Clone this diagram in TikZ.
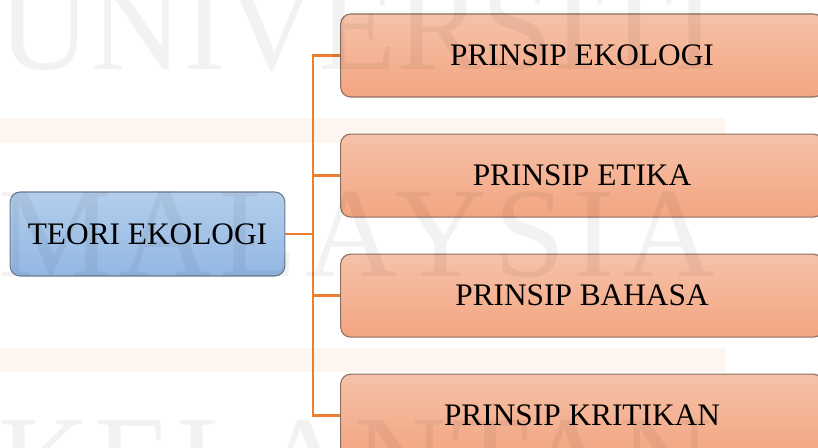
\documentclass[tikz,border=0pt]{standalone}
\usepackage{fontspec}
\setmainfont{Liberation Serif}
\newfontfamily\wmfont{Liberation Serif}
\usetikzlibrary{positioning}

\definecolor{linkorange}{HTML}{ED7D31}
\definecolor{boxtop}{HTML}{F5C2A8}
\definecolor{boxbot}{HTML}{F4A582}
\definecolor{boxline}{HTML}{8A6E60}
\definecolor{roottop}{HTML}{B3CEEC}
\definecolor{rootbot}{HTML}{93B7E3}
\definecolor{rootline}{HTML}{6C7C90}

\tikzset{
	rootbox/.style = {draw=rootline, line width=0.8pt, rounded corners=7.5pt, top color=roottop, bottom color=rootbot,
		minimum width=206pt, minimum height=63pt, inner sep=0pt, font=\fontsize{23.5pt}{28pt}\selectfont},
	leafbox/.style = {draw=boxline, line width=0.8pt, rounded corners=7.5pt, top color=boxtop, bottom color=boxbot,
		minimum width=362pt, minimum height=62.25pt, inner sep=0pt, font=\fontsize{23.5pt}{28pt}\selectfont},
	link/.style = {draw=linkorange, line width=1.8pt},
	wmark/.style = {anchor=base west, inner sep=0pt, text=black, text opacity=0.05,
		font=\wmfont\fontsize{96pt}{100pt}\selectfont},
}

\begin{document}
\begin{tikzpicture}[x=0.75pt, y=-0.75pt]
	\useasboundingbox (0,0) rectangle (818,448);
	\fill[white] (0,0) rectangle (818,448);

	% faint bands of the page watermark
	\fill[linkorange, opacity=0.07] (0,118) rectangle (725,143);
	\fill[linkorange, opacity=0.07] (0,348) rectangle (725,372);

	\node[rootbox] (teori) at (147.5,234) {TEORI EKOLOGI};

	\node[leafbox] (p1) at (582,55.5) {PRINSIP EKOLOGI};
	\node[leafbox, below=27pt of p1] (p2) {PRINSIP ETIKA};
	\node[leafbox, below=27pt of p2] (p3) {PRINSIP BAHASA};
	\node[leafbox, below=27pt of p3] (p4) {PRINSIP KRITIKAN};

	\coordinate (split) at (313,234);
	\draw[link] (teori.east) -- (split);
	\foreach \i in {1,...,4}
		\draw[link] (split) |- (p\i.west);

	% page watermark
	\node[wmark] (wm1) at (-2,70) {UNIVERSITI};
	\node[wmark] (wm2) at (-2,277) {\addfontfeature{LetterSpace=6}MALAYSIA};
	\node[wmark] (wm3) at (-2,505) {\addfontfeature{LetterSpace=3}KELANTAN};
\end{tikzpicture}
\end{document}
